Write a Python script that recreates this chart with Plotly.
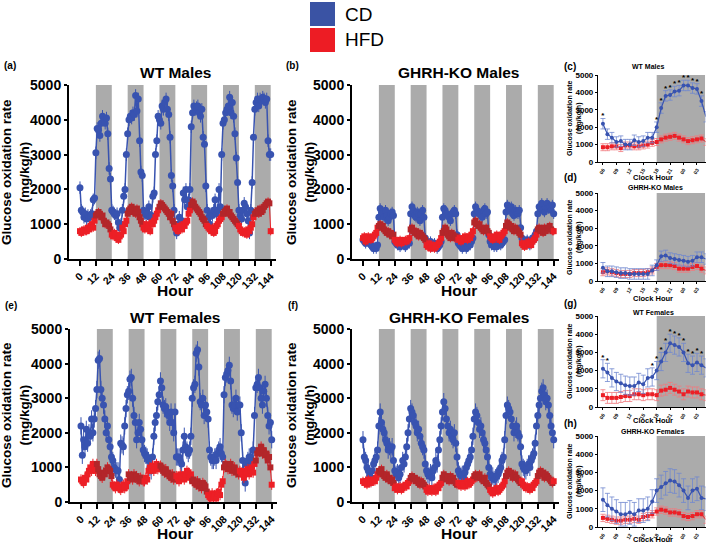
import plotly.graph_objects as go

# ---------------- DATA ----------------
# Large panels: hourly values, hour = index (0..144)
wt_m_cd = [2050,1400,1350,1200,1300,1150,1250,1200,1250,1300,1700,1750,
           3050,3750,3700,3550,3900,4100,4000,3900,4050,3600,2600,2300,
           1400,1350,1300,1250,1300,1050,900,1000,1400,1800,2000,3000,
           3600,4000,4100,4050,4200,4150,4700,4250,4600,3400,2500,2400,
           1400,1300,1250,1300,1500,1200,1250,1800,1900,3000,3400,4100,
           4000,3900,4400,4300,4500,4600,4300,4150,3500,2400,2100,1400,
           900,750,1000,1200,1000,1100,1900,1700,2000,1500,1700,2000,
           3800,4200,4400,4300,4350,4400,4200,4100,4300,3500,3300,2100,
           1400,1200,1000,1300,1250,1400,1700,1300,1400,2000,1500,3000,
           3900,4000,4200,4300,4400,4650,4200,4500,4100,3600,2900,2200,
           1400,1250,1150,1400,1600,1500,1300,1100,750,1400,2200,3500,
           4300,4500,4600,4400,4600,4550,4650,4600,4500,4600,3400,3000,3000]
wt_m_hfd = [800,750,800,850,800,800,900,850,950,1000,900,1100,
            1250,1300,1350,1300,1200,1250,1100,1000,1050,1000,950,850,
            700,650,750,700,600,550,650,700,900,800,1000,1100,
            1300,1400,1450,1500,1350,1400,1300,1450,1350,1200,1100,1000,
            900,850,1000,900,950,800,1050,1000,1100,1200,1300,1400,
            1500,1600,1550,1500,1450,1400,1350,1300,1200,1300,1100,1000,
            900,850,800,950,900,850,1000,950,1050,1100,1300,1400,
            1550,1650,1600,1500,1450,1400,1350,1300,1200,1150,1100,1000,
            950,900,850,800,900,750,800,950,1000,1100,1150,1200,
            1300,1350,1400,1450,1300,1350,1250,1200,1150,1100,1050,1000,
            950,850,800,750,800,750,700,850,800,900,1000,1200,
            1300,1350,1400,1300,1450,1350,1400,1500,1550,1600,1650,1600,800]
ko_m_cd = [550,500,450,500,550,450,400,350,300,350,300,400,
           1200,1450,1350,1300,1200,1400,1250,1100,1200,1300,1350,1250,
           500,450,400,400,350,400,450,400,350,400,500,450,
           1300,1500,1400,1250,1200,1350,1300,1100,1300,1400,1200,600,
           500,450,400,500,350,400,450,400,300,350,400,500,
           1200,1450,1400,1300,1250,1200,1100,1300,1350,1400,1300,700,
           450,400,350,300,350,400,300,350,450,400,500,600,
           1300,1500,1400,1350,1300,1250,1200,1400,1450,1300,1350,700,
           500,400,450,350,400,350,450,500,400,450,500,550,
           1350,1550,1450,1400,1500,1300,1250,1400,1350,1300,1400,900,
           600,500,450,500,550,450,400,500,600,550,700,800,
           1300,1500,1450,1600,1400,1350,1500,1600,1450,1500,1400,1550,1300]
ko_m_hfd = [600,650,500,550,650,600,550,600,650,700,750,900,
            950,1000,900,950,850,800,750,800,700,750,650,700,
            550,500,450,500,550,450,500,500,550,500,550,600,
            850,900,800,750,800,700,650,750,700,650,600,550,
            400,350,450,300,350,400,300,350,400,450,500,600,
            750,800,900,850,700,650,600,750,700,600,650,600,
            550,600,500,550,600,650,600,550,650,600,700,800,
            1050,1100,1000,950,1000,900,850,800,850,900,800,750,
            650,600,550,600,650,700,600,550,650,700,750,800,
            950,1050,1000,900,950,850,800,900,850,800,750,700,
            450,400,350,450,400,500,450,400,500,550,600,700,
            850,900,800,850,750,900,800,850,900,950,850,800,800]
wt_f_cd = [2200,1350,1800,1600,2100,1700,2000,1900,2400,2000,2400,2700,
           3250,4100,4150,3250,3000,2800,2400,2000,2200,1800,1600,1300,
           1200,1000,950,900,900,650,1700,1650,1600,2200,2700,3100,
           3200,3550,3600,3000,2500,2300,1800,2000,2300,2100,1800,1500,
           1400,1350,1300,1200,1000,900,1300,1900,2300,2500,2900,3100,
           3500,3300,2800,2700,2750,2600,2500,2300,2600,2300,2000,2600,
           1300,1300,1300,1200,1100,1500,1900,1600,1500,1400,1500,1900,
           3000,3300,3400,4300,4400,3900,2900,2800,3000,2500,2800,2600,
           2400,1500,1300,1200,1200,1300,1200,1400,1500,1600,1400,1300,
           3100,3600,3700,3800,3950,3500,2800,2700,2800,3000,2600,2800,
           2800,2000,1200,800,550,1100,1200,1300,1300,1200,1500,2500,
           3300,3400,3600,3300,3000,2800,3200,3400,3000,2500,2200,2300,1800]
wt_f_hfd = [650,600,550,700,650,800,900,1000,900,1100,1000,900,
            1100,950,800,750,700,850,800,900,1000,950,900,750,
            500,450,400,500,450,400,350,450,500,400,450,600,
            800,700,750,650,800,700,750,650,600,700,650,600,
            600,700,650,900,1000,950,1050,900,1000,1100,950,1000,
            1050,1000,900,850,950,800,850,750,700,800,650,700,
            750,700,600,800,700,750,650,800,900,850,700,800,
            600,650,550,500,600,450,500,400,550,500,450,300,
            200,150,100,250,150,200,100,250,300,200,500,600,
            1000,1100,1050,950,1000,1100,900,950,1000,850,900,800,
            900,850,800,700,900,850,950,800,900,1000,850,1100,
            1200,1400,1500,1450,1600,1400,1500,1350,1400,1200,1300,1000,500]
ko_f_cd = [1800,1300,1200,1000,900,750,700,900,1100,1200,1300,1500,
           2200,2600,2300,2100,2000,1800,1700,1500,1600,1500,1600,1200,
           900,800,850,700,800,1000,1200,1100,1300,1600,2000,2400,
           2700,2600,2500,2300,2200,2000,2100,1900,1700,1600,1500,1100,
           900,800,750,850,700,900,1000,1200,1100,1500,1800,2200,
           2600,2900,2700,2400,2200,2000,2100,1900,1800,2000,1700,1300,
           900,800,750,800,700,850,1000,1100,1200,1300,1500,1900,
           2400,2600,2500,2300,2100,2200,2000,1800,1700,1500,1300,1000,
           800,700,750,650,700,750,800,900,1000,1200,1300,1800,
           2500,2800,2700,2600,2400,2200,2000,2100,2200,2000,1900,1600,
           1100,1000,950,900,1000,1100,1000,1200,1300,1400,1700,2200,
           2500,2800,3000,3200,3300,3100,2900,3000,2800,2500,2200,2000,1800]
ko_f_hfd = [600,550,600,500,650,600,550,600,650,600,700,800,
            900,850,950,800,750,700,800,650,700,600,650,550,
            400,450,350,400,450,350,400,450,500,450,550,600,
            700,750,650,700,600,650,550,500,600,550,500,450,
            350,300,400,350,300,400,350,300,450,400,500,550,
            700,800,750,650,700,600,750,650,700,600,550,500,
            550,500,450,550,500,450,550,600,500,550,600,650,
            750,800,700,750,800,700,650,600,700,550,500,450,
            350,300,250,350,300,400,300,350,400,450,500,600,
            750,850,900,800,850,700,750,800,700,650,600,550,
            600,500,450,400,450,400,350,450,400,500,550,600,
            750,850,900,800,850,700,800,750,700,650,600,550,600]

hour_ticks = [0, 12, 24, 36, 48, 60, 72, 84, 96, 108, 120, 132, 144]
dark_starts = [12, 36, 60, 84, 108, 132]

# Small panels: clock hour profile, 06:00 .. 05:00
clock_ticks = ['06', '09', '12', '15', '18', '21', '00', '03']
c_cd = [2200,1600,1400,1150,1200,1000,1000,1250,1150,1200,1400,1400,
        2000,3100,3800,3850,4050,4100,4400,4400,4250,4200,3500,2600]
c_hfd = [850,850,900,900,800,950,950,900,900,950,1000,1100,
         1150,1300,1400,1450,1500,1400,1300,1200,1250,1300,1350,1150]
d_cd = [750,550,550,500,450,450,400,400,400,400,400,600,
        900,1400,1450,1300,1250,1200,1150,1100,1150,1350,1350,1250]
d_hfd = [500,550,500,450,400,400,400,450,450,450,500,600,
         800,900,900,900,850,700,700,700,800,850,700,600]
g_cd = [2100,1900,1600,1400,1300,1200,1150,1150,1350,1250,1600,1650,
        2000,2500,3000,3500,3400,3300,3000,2400,2300,2450,2300,2150]
g_hfd = [650,500,500,500,550,600,600,700,700,650,700,700,
         650,900,950,1050,950,850,700,850,800,800,700,650]
h_cd = [1500,1200,1000,850,700,700,800,700,900,900,1000,1400,
        2000,2200,2400,2550,2500,2300,2000,1600,2000,2100,1600,1550]
h_hfd = [500,450,400,350,350,400,400,450,400,550,600,700,
         850,950,900,800,800,750,600,550,600,700,700,400]
c_stars = [0, 12, 13, 14, 15, 16, 17, 18, 19, 20, 21, 22]
g_stars = [0, 1, 11, 12, 13, 14, 15, 16, 17, 18, 19, 20, 21, 22, 23]

# ---------------- STYLE ----------------
FONT = "Liberation Sans, Arial, sans-serif"
BLUE = "#3853B0"
RED = "#EC1F26"
DARKRED = "#B3262A"
GRAY = "#ABABAB"
LBLUE = "#7088CF"
LRED = "#F07A7E"
W, H = 709, 544

def px_x(p):
    return p / W

def px_y(p):
    return 1 - p / H

fig = go.Figure()
layout = dict(width=W, height=H, margin=dict(l=0, r=0, t=0, b=0, autoexpand=False),
              paper_bgcolor="white", plot_bgcolor="white",
              showlegend=False, font=dict(family=FONT, color="black"))
shapes = []
annotations = []

large = [  # (axis idx, cd, hfd, xdomain px, ydomain px, err_cd, err_hfd)
    (1, wt_m_cd, wt_m_hfd, (69, 276), (85, 259), 180, 120),
    (2, ko_m_cd, ko_m_hfd, (352, 559), (85, 259), 150, 120),
    (3, wt_f_cd, wt_f_hfd, (70, 277), (329, 502), 250, 150),
    (4, ko_f_cd, ko_f_hfd, (352, 559), (329, 502), 250, 130),
]

for idx, cd, hfd, xd, yd, ecd, ehfd in large:
    xa = "x" if idx == 1 else f"x{idx}"
    ya = "y" if idx == 1 else f"y{idx}"
    xs_cd = list(range(len(cd)))
    xs_hfd = list(range(len(hfd)))
    fig.add_trace(go.Scatter(x=xs_cd, y=cd, xaxis=xa, yaxis=ya, mode="lines+markers",
                             line=dict(color=BLUE, width=1.5),
                             marker=dict(symbol="circle", size=7, color=BLUE),
                             error_y=dict(type="constant", value=ecd, color=BLUE,
                                          thickness=1, width=0),
                             cliponaxis=False))
    red_cols = [DARKRED if (h % 24) >= 12 else RED for h in xs_hfd]
    fig.add_trace(go.Scatter(x=xs_hfd, y=hfd, xaxis=xa, yaxis=ya, mode="lines+markers",
                             line=dict(color=RED, width=1),
                             marker=dict(symbol="square", size=6, color=red_cols),
                             error_y=dict(type="constant", value=ehfd, color=RED,
                                          thickness=1, width=0),
                             cliponaxis=False))
    for s in dark_starts:
        shapes.append(dict(type="rect", xref=xa, yref=ya, x0=s, x1=s + 12, y0=0, y1=5000,
                           fillcolor=GRAY, line=dict(width=0), layer="below"))
    axkey = "xaxis" if idx == 1 else f"xaxis{idx}"
    aykey = "yaxis" if idx == 1 else f"yaxis{idx}"
    layout[axkey] = dict(domain=[px_x(xd[0]), px_x(xd[1])], range=[-8.3, 148],
                         anchor=ya, tickvals=hour_ticks, tickangle=-45, automargin=False,
                         tickfont=dict(size=10.5, weight="bold", family=FONT),
                         showline=True, linecolor="black", linewidth=2,
                         ticks="outside", ticklen=5, tickwidth=2, tickcolor="black",
                         showgrid=False, zeroline=False)
    layout[aykey] = dict(domain=[px_y(yd[1]), px_y(yd[0])], range=[0, 5000],
                         anchor=xa, tickvals=[0, 1000, 2000, 3000, 4000, 5000],
                         automargin=False,
                         tickfont=dict(size=14, weight="bold", family=FONT),
                         showline=True, linecolor="black", linewidth=2,
                         ticks="outside", ticklen=3, tickwidth=2, tickcolor="black",
                         showgrid=False, zeroline=False)

small = [  # (axis idx, cd, hfd, ydomain px, err_cd, err_hfd, stars)
    (5, c_cd, c_hfd, (75, 162), 300, 200, c_stars),
    (6, d_cd, d_hfd, (193, 281), 300, 200, []),
    (7, g_cd, g_hfd, (316, 407), 500, 300, g_stars),
    (8, h_cd, h_hfd, (436, 527), 650, 200, []),
]
for idx, cd, hfd, yd, ecd, ehfd, stars in small:
    xa, ya = f"x{idx}", f"y{idx}"
    xs = list(range(len(cd)))
    shapes.append(dict(type="rect", xref=xa, yref=ya, x0=12, x1=22.8, y0=0, y1=5000,
                       fillcolor=GRAY, line=dict(width=0), layer="below"))
    fig.add_trace(go.Scatter(x=xs, y=hfd, xaxis=xa, yaxis=ya, mode="lines+markers",
                             line=dict(color=RED, width=1),
                             marker=dict(symbol="square", size=4, color=RED),
                             error_y=dict(type="constant", value=ehfd, color=LRED,
                                          thickness=0.8, width=2.5),
                             cliponaxis=False))
    fig.add_trace(go.Scatter(x=xs, y=cd, xaxis=xa, yaxis=ya, mode="lines+markers",
                             line=dict(color=BLUE, width=1.2),
                             marker=dict(symbol="circle", size=4, color=BLUE),
                             error_y=dict(type="constant", value=ecd, color=LBLUE,
                                          thickness=0.8, width=2.5),
                             cliponaxis=False))
    if stars:
        fig.add_trace(go.Scatter(x=stars, y=[cd[i] + ecd + 120 for i in stars],
                                 xaxis=xa, yaxis=ya, mode="text", text=["*"] * len(stars),
                                 textfont=dict(size=8, color="black", weight="bold"),
                                 cliponaxis=False))
    layout[f"xaxis{idx}"] = dict(domain=[px_x(598), px_x(705.5)], range=[-1.1, 22.9],
                                 anchor=ya, tickvals=[0, 3, 6, 9, 12, 15, 18, 21],
                                 ticktext=clock_ticks, tickangle=-60, automargin=False,
                                 tickfont=dict(size=5, weight="bold", family=FONT),
                                 showline=True, linecolor="black", linewidth=1.2,
                                 ticks="outside", ticklen=2, tickwidth=1, tickcolor="black",
                                 showgrid=False, zeroline=False)
    layout[f"yaxis{idx}"] = dict(domain=[px_y(yd[1]), px_y(yd[0])], range=[0, 5000],
                                 anchor=xa, tickvals=[0, 1000, 2000, 3000, 4000, 5000],
                                 automargin=False,
                                 tickfont=dict(size=8, weight="bold", family=FONT),
                                 showline=True, linecolor="black", linewidth=1.2,
                                 ticks="outside", ticklen=2, tickwidth=1, tickcolor="black",
                                 showgrid=False, zeroline=False)

def ann(text, x, y, size, bold=True, angle=0, xanchor="center"):
    annotations.append(dict(text=text, x=px_x(x), y=px_y(y), xref="paper", yref="paper",
                            showarrow=False, textangle=angle, xanchor=xanchor,
                            yanchor="middle",
                            font=dict(size=size, family=FONT, color="black",
                                      weight="bold" if bold else "normal")))

# panel letters and titles
ann("(a)", 2, 65, 10, xanchor="left")
ann("(b)", 284, 65, 10, xanchor="left")
ann("(e)", 3, 305, 10, xanchor="left")
ann("(f)", 286, 305, 10, xanchor="left")
ann("(c)", 562, 66, 10, xanchor="left")
ann("(d)", 562, 177, 10, xanchor="left")
ann("(g)", 562, 303, 10, xanchor="left")
ann("(h)", 562, 423, 10, xanchor="left")
ann("WT Males", 175, 73, 15.5)
ann("GHRH-KO Males", 458, 73, 15.5)
ann("WT Females", 175, 317, 15.5)
ann("GHRH-KO Females", 459, 317, 15.5)
ann("WT Males", 648, 66, 7)
ann("GHRH-KO Males", 655, 187, 7)
ann("WT Females", 653, 312, 7)
ann("GHRH-KO Females", 653, 431, 7)
# axis titles
for yc in (172, 415):
    ann("Glucose oxidation rate<br>(mg/kg/h)", 15, yc, 13.5, angle=-90)
    ann("Glucose oxidation rate<br>(mg/kg/h)", 300, yc, 13.5, angle=-90)
for yc in (118, 237, 361, 481):
    ann("Glucose oxidation rate<br>(mg/kg/h)", 574, yc, 7, angle=-90)
ann("Hour", 175, 290, 15.5)
ann("Hour", 459, 290, 15.5)
ann("Hour", 175, 533, 15.5)
ann("Hour", 459, 533, 15.5)
for yc in (178, 298, 420, 539):
    ann("Clock Hour", 653, yc, 7.5)

# legend
shapes.append(dict(type="rect", xref="paper", yref="paper", x0=px_x(310), x1=px_x(335),
                   y0=px_y(26), y1=px_y(2), fillcolor="#3A53A4", line=dict(width=0)))
shapes.append(dict(type="rect", xref="paper", yref="paper", x0=px_x(310), x1=px_x(335),
                   y0=px_y(52), y1=px_y(28), fillcolor="#ED1C24", line=dict(width=0)))
ann("CD", 343, 14, 19, bold=False, xanchor="left")
ann("HFD", 343, 40, 19, bold=False, xanchor="left")

layout["shapes"] = shapes
layout["annotations"] = annotations
fig.update_layout(**layout)
fig.write_html("out.html", config={"displayModeBar": False},
               post_script="document.body.style.margin='0';document.body.style.overflow='hidden';")
